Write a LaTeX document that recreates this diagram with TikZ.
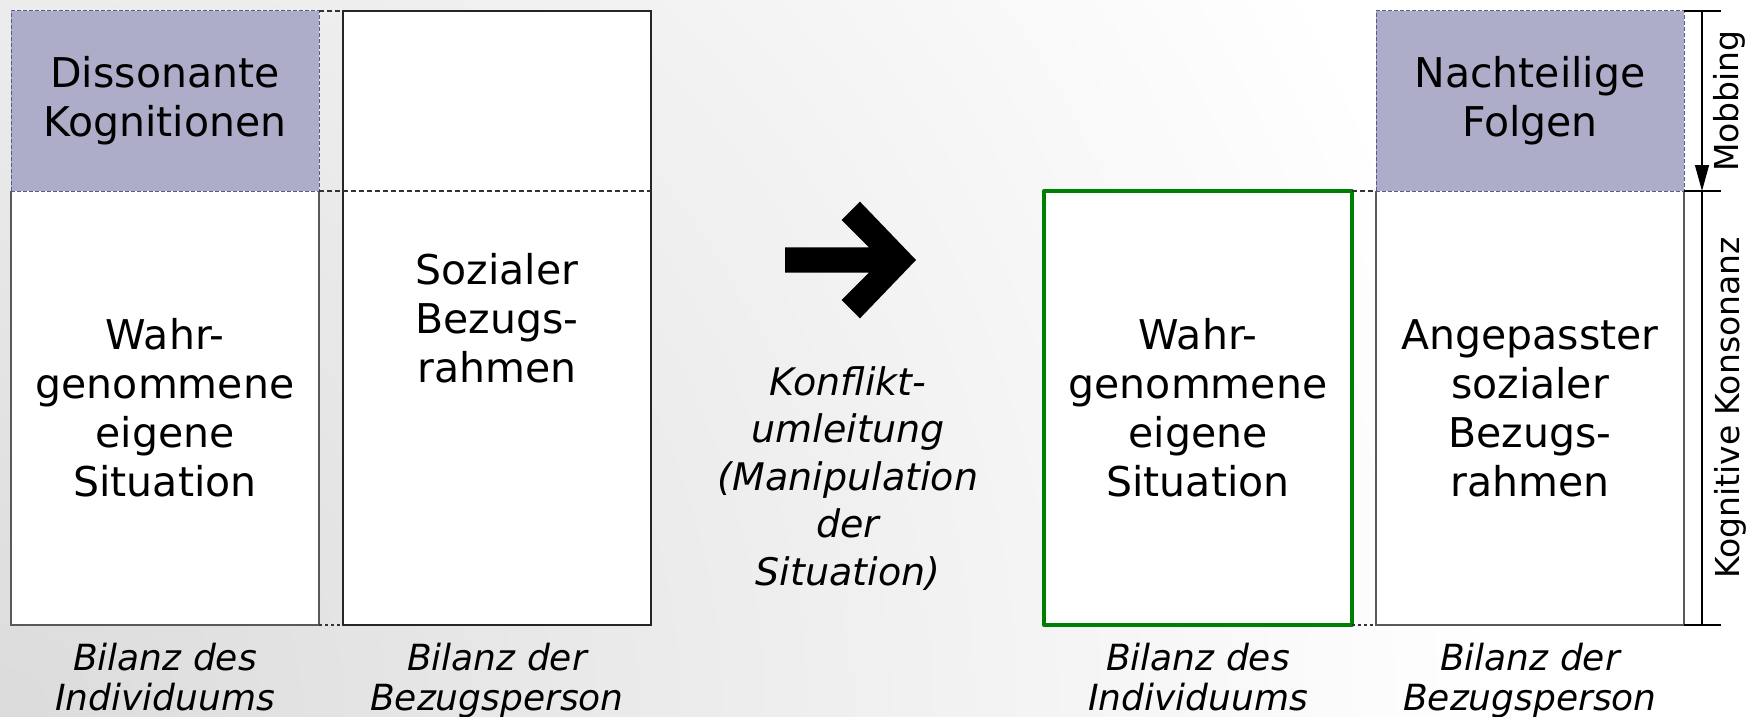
\documentclass[tikz,border=0pt]{standalone}
\usepackage{fontspec}
\setmainfont{DejaVu Sans}
\usetikzlibrary{arrows.meta}
\definecolor{lav}{HTML}{ADADC9}
\definecolor{lavedge}{HTML}{5A5A8C}
\definecolor{okgreen}{HTML}{008000}
\begin{document}
\begin{tikzpicture}[x=1pt,y=-1pt,
  boxtext/.style={font=\fontsize{41}{49}\selectfont, align=center, inner sep=0pt, outer sep=0pt, anchor=north west, minimum width=308pt},
  lavbox/.style={boxtext, fill=lav, draw=lavedge, dash pattern=on 4pt off 2pt, line width=1pt, minimum height=180pt},
  lowbox/.style={boxtext, fill=white, minimum height=434pt},
  fullbox/.style={boxtext, fill=white, draw=black!85, line width=1.3pt, minimum height=614pt},
  greenbox/.style={lowbox, draw=okgreen, line width=4pt, line join=round},
  sideline/.style={draw=black!65, line width=1.6pt},
  gapdash/.style={draw=black!80, line width=1.2pt, dash pattern=on 5pt off 3pt},
  gapdot/.style={draw=black!80, line width=1.2pt, dash pattern=on 3pt off 3pt},
  dimline/.style={draw=black, line width=1.3pt},
  rotlabel/.style={font=\fontsize{33}{38}\selectfont, rotate=90, inner sep=0pt},
  lbl/.style={font=\fontsize{36}{40}\selectfont\itshape, align=center, inner sep=0pt, anchor=north},
  konf/.style={font=\fontsize{38}{47.5}\selectfont\itshape, align=center, inner sep=0pt, anchor=north}
]
\useasboundingbox (0,0) rectangle (1756,717);
% background
\begin{scope}
  \clip (0,0) rectangle (1756,717);
  \fill[white] (0,0) rectangle (1756,717);
  \shade[inner color=black!14, outer color=white] (-1500,-783) rectangle (1500,2217);
\end{scope}

% ---- left: column 1
\node[lowbox] (c1lo) at (11,191) {Wahr-\\genommene\\eigene\\Situation};
\draw[sideline] (c1lo.north west) -- (c1lo.south west) -- (c1lo.south east) -- (c1lo.north east);
\node[lavbox] (c1hi) at (11,11) {Dissonante\\Kognitionen};

% ---- column 2
\node[fullbox] (c2) at (343,11) {Sozialer\\Bezugs-\\rahmen};
\draw[gapdash] (c1hi.north east) -- (c2.north west);
\draw[gapdash] (c1hi.south east) -- (c2.east |- c1hi.south east);
\draw[gapdot] (c1lo.south east) -- (c2.south west);

% ---- big arrow
\fill[black] (785,247.3) -- (869,247.3) -- (841.7,220) -- (860,201.7) -- (916,260)
  -- (860,318.3) -- (841.7,300) -- (869,272.7) -- (785,272.7) -- cycle;
\node[konf] (kt) at (848,366) {Konflikt-\\umleitung\\(Manipulation\\der\\Situation)};

% ---- right: column 3 (green)
\node[greenbox] (c3) at (1044,191) {Wahr-\\genommene\\eigene\\Situation};

% ---- column 4
\node[lowbox] (c4lo) at (1376,191) {Angepasster\\sozialer\\Bezugs-\\rahmen};
\draw[sideline] (c4lo.north west) -- (c4lo.south west) -- (c4lo.south east) -- (c4lo.north east);
\node[lavbox] (c4hi) at (1376,11) {Nachteilige\\Folgen};
\draw[gapdash] (c3.north east) -- (c4lo.north west);
\draw[gapdot] (c3.south east) -- (c4lo.south west);

% ---- dimension lines
\coordinate (mt) at (1702,11);
\coordinate (mm) at (1702,191);
\coordinate (mb) at (1702,625);
\coordinate (tk1) at (1721,11);
\coordinate (tk2) at (1721,191);
\coordinate (tk3) at (1721,625);
\draw[dimline] (c4hi.north east) -- (tk1);
\draw[dimline] (c4hi.south east) -- (tk2);
\draw[dimline] (c4lo.south east) -- (tk3);
\draw[dimline, -{Triangle[length=26pt,width=14pt]}] (mt) -- (mm);
\draw[dimline] (mm) -- (mb);
\node[rotlabel] (mob) at (1729,101) {Mobbing};
\node[rotlabel] (kk) at (1730,408) {Kognitive Konsonanz};

% ---- bottom labels
\node[lbl] (l1) at (165,642.6) {Bilanz des\\Individuums};
\node[lbl] (l2) at (497,642.6) {Bilanz der\\Bezugsperson};
\node[lbl] (l3) at (1198,642.6) {Bilanz des\\Individuums};
\node[lbl] (l4) at (1530,642.6) {Bilanz der\\Bezugsperson};
\end{tikzpicture}
\end{document}
